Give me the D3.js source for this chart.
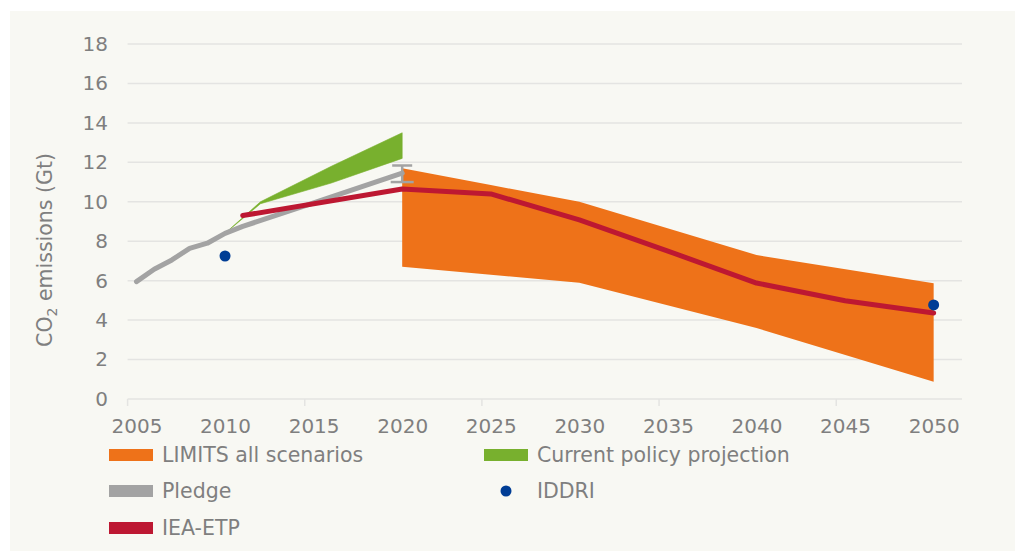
<!DOCTYPE html>
<html>
<head>
<meta charset="utf-8">
<script src="https://cdn.jsdelivr.net/npm/d3@7"></script>
<style>
    body { margin: 0; background: #ffffff; }
    svg { display: block; font-family: "DejaVu Sans", Verdana, sans-serif; }
</style>
</head>
<body>
<svg id="chart" width="1024" height="555"></svg>
<script>
// Data
const tickYears = [2005, 2010, 2015, 2020, 2025, 2030, 2035, 2040, 2045, 2050];
const yTicks = [0, 2, 4, 6, 8, 10, 12, 14, 16, 18];

// LIMITS all scenarios (range)
const limitsYears = [2020, 2025, 2030, 2040, 2050];
const limitsLow = [6.7, 6.3, 5.9, 3.6, 0.88];
const limitsHigh = [11.7, 10.85, 10.0, 7.3, 5.87];

// Current policy projection (range)
const policyYears = [2010, 2012, 2016, 2020];
const policyLow = [8.4, 9.9, 10.95, 12.2];
const policyHigh = [8.4, 10.0, 11.8, 13.5];

// Pledge
const pledgeYears = [2005, 2006, 2007, 2008, 2009, 2010, 2011, 2015, 2020];
const pledgeValues = [5.95, 6.58, 7.05, 7.64, 7.9, 8.4, 8.75, 9.95, 11.45];
const pledgeErrorLow = 11.0;
const pledgeErrorHigh = 11.84;

// IEA-ETP
const ieaYears = [2011, 2020, 2025, 2030, 2035, 2040, 2045, 2050];
const ieaValues = [9.3, 10.65, 10.4, 9.08, 7.5, 5.88, 4.98, 4.36];

// IDDRI
const iddriYears = [2010, 2050];
const iddriValues = [7.25, 4.77];

const colors = {
    limits: "#ee7219",
    policy: "#78b02e",
    pledge: "#a3a3a3",
    iea: "#bd1832",
    iddri: "#003d95",
    text: "#7f7f7f",
    grid: "#e4e4e2"
};

function drawChart() {
    const svg = d3.select("#chart");

    // chart background panel
    svg.append("rect")
        .attr("x", 10).attr("y", 11)
        .attr("width", 1005).attr("height", 540)
        .attr("fill", "#f8f8f3");

    const x = d3.scaleLinear().domain([2004.5, 2051.6]).range([127.6, 962]);
    const y = d3.scaleLinear().domain([0, 18]).range([399, 44]);

    // horizontal grid lines
    svg.append("g")
        .selectAll("line")
        .data(yTicks)
        .join("line")
        .attr("x1", x.range()[0])
        .attr("x2", x.range()[1])
        .attr("y1", d => y(d))
        .attr("y2", d => y(d))
        .attr("stroke", colors.grid)
        .attr("stroke-width", 1.5);

    // y axis labels
    const yAxis = d3.axisLeft(y).tickValues(yTicks).tickSize(0).tickPadding(0);
    svg.append("g")
        .attr("transform", "translate(108,0)")
        .call(yAxis)
        .call(g => g.select(".domain").remove())
        .call(g => g.selectAll("text")
            .attr("fill", colors.text)
            .attr("font-size", "20px")
            .attr("font-family", "DejaVu Sans, Verdana, sans-serif"));

    // x axis: tick marks between categories every 10 years, labels every 5
    const tickMarks = d3.range(2004.5, 2050, 10);
    svg.append("g")
        .selectAll("line")
        .data(tickMarks)
        .join("line")
        .attr("x1", d => x(d)).attr("x2", d => x(d))
        .attr("y1", y(0)).attr("y2", y(0) + 7)
        .attr("stroke", colors.grid)
        .attr("stroke-width", 1.5);

    const xAxis = d3.axisBottom(x).tickValues(tickYears).tickFormat(d3.format("d")).tickSize(0).tickPadding(0);
    svg.append("g")
        .attr("transform", "translate(0,426)")
        .call(xAxis)
        .call(g => g.select(".domain").remove())
        .call(g => g.selectAll("text")
            .attr("dy", "0.35em")
            .attr("fill", colors.text)
            .attr("font-size", "20px")
            .attr("font-family", "DejaVu Sans, Verdana, sans-serif"));

    // y axis title with subscript
    const title = svg.append("text")
        .attr("transform", "translate(52,250) rotate(-90)")
        .attr("text-anchor", "middle")
        .attr("fill", colors.text)
        .attr("font-size", "20.5px");
    title.append("tspan").text("CO");
    title.append("tspan").attr("font-size", "14px").attr("dy", 5).text("2");
    title.append("tspan").attr("dy", -5).text(" emissions (Gt)");

    // LIMITS band
    const limitsData = limitsYears.map((yr, i) => ({ yr, lo: limitsLow[i], hi: limitsHigh[i] }));
    svg.append("path")
        .datum(limitsData)
        .attr("fill", colors.limits)
        .attr("d", d3.area().x(d => x(d.yr)).y0(d => y(d.lo)).y1(d => y(d.hi)));

    // Current policy band (thin at the start)
    const policyData = policyYears.map((yr, i) => ({ yr, lo: policyLow[i], hi: policyHigh[i] }));
    svg.append("path")
        .datum(policyData)
        .attr("fill", colors.policy)
        .attr("stroke", colors.policy)
        .attr("stroke-width", 0.6)
        .attr("d", d3.area().x(d => x(d.yr)).y0(d => y(d.lo)).y1(d => y(d.hi)));

    // Pledge line with error bar
    const line = d3.line().x(d => x(d[0])).y(d => y(d[1]));
    svg.append("path")
        .datum(d3.zip(pledgeYears, pledgeValues))
        .attr("fill", "none")
        .attr("stroke", colors.pledge)
        .attr("stroke-width", 5)
        .attr("stroke-linecap", "round")
        .attr("stroke-linejoin", "round")
        .attr("d", line);

    const errX = x(pledgeYears[pledgeYears.length - 1]);
    const err = svg.append("g").attr("stroke", colors.pledge).attr("stroke-width", 2.5);
    err.append("line").attr("x1", errX).attr("x2", errX).attr("y1", y(pledgeErrorHigh)).attr("y2", y(pledgeErrorLow));
    err.append("line").attr("x1", errX - 10).attr("x2", errX + 10).attr("y1", y(pledgeErrorHigh)).attr("y2", y(pledgeErrorHigh));
    err.append("line").attr("x1", errX - 11.5).attr("x2", errX + 11.5).attr("y1", y(pledgeErrorLow)).attr("y2", y(pledgeErrorLow));

    // IEA-ETP line
    svg.append("path")
        .datum(d3.zip(ieaYears, ieaValues))
        .attr("fill", "none")
        .attr("stroke", colors.iea)
        .attr("stroke-width", 5)
        .attr("stroke-linecap", "round")
        .attr("stroke-linejoin", "round")
        .attr("d", line);

    // IDDRI points
    svg.append("g")
        .selectAll("circle")
        .data(d3.zip(iddriYears, iddriValues))
        .join("circle")
        .attr("cx", d => x(d[0]))
        .attr("cy", d => y(d[1]))
        .attr("r", 5.5)
        .attr("fill", colors.iddri);

    drawLegend(svg);
}

function drawLegend(svg) {
    const items = [
        { label: "LIMITS all scenarios", color: colors.limits, type: "rect", x: 109, y: 455 },
        { label: "Current policy projection", color: colors.policy, type: "rect", x: 484, y: 455 },
        { label: "Pledge", color: colors.pledge, type: "rect", x: 109, y: 491 },
        { label: "IDDRI", color: colors.iddri, type: "dot", x: 484, y: 491 },
        { label: "IEA-ETP", color: colors.iea, type: "rect", x: 109, y: 528 }
    ];

    const g = svg.append("g").selectAll("g").data(items).join("g")
        .attr("transform", d => `translate(${d.x},${d.y})`);

    g.filter(d => d.type === "rect").append("rect")
        .attr("x", 0).attr("y", -6)
        .attr("width", 44).attr("height", 12)
        .attr("fill", d => d.color);

    g.filter(d => d.type === "dot").append("circle")
        .attr("cx", 22).attr("cy", 0).attr("r", 5.5)
        .attr("fill", d => d.color);

    g.append("text")
        .attr("x", 53)
        .attr("dy", "0.36em")
        .attr("fill", colors.text)
        .attr("font-size", "20.5px")
        .text(d => d.label);
}

drawChart();
</script>
</body>
</html>
